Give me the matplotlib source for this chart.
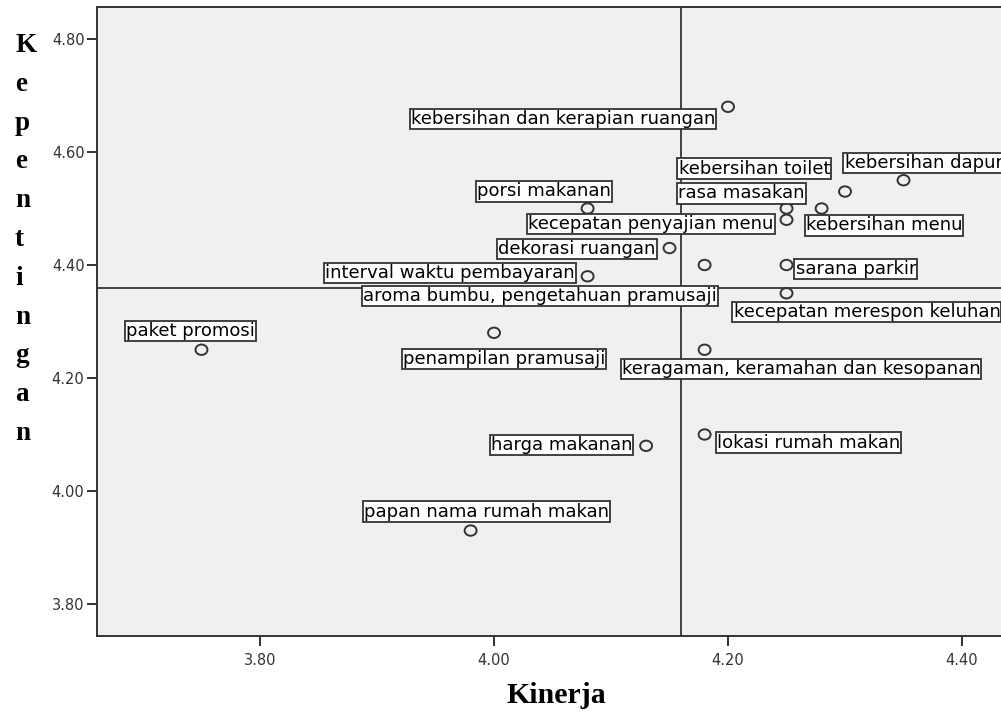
import matplotlib
matplotlib.use('Agg')

import numpy as np
import matplotlib.pyplot as plt
from matplotlib.path import Path

# data: (kinerja, kepentingan) per attribute
labels = [
    'kebersihan dan kerapian ruangan',
    'kebersihan dapur',
    'kebersihan toilet',
    'rasa masakan',
    'porsi makanan',
    'kecepatan penyajian menu',
    'kebersihan menu',
    'dekorasi ruangan',
    'interval waktu pembayaran',
    'aroma bumbu, pengetahuan pramusaji',
    'sarana parkir',
    'kecepatan merespon keluhan',
    'paket promosi',
    'penampilan pramusaji',
    'keragaman, keramahan dan kesopanan',
    'harga makanan',
    'lokasi rumah makan',
    'papan nama rumah makan',
]
kinerja = [4.20, 4.35, 4.30, 4.25, 4.08, 4.25, 4.28, 4.15, 4.08,
           4.18, 4.25, 4.25, 3.75, 4.00, 4.18, 4.13, 4.18, 3.98]
kepentingan = [4.68, 4.55, 4.53, 4.50, 4.50, 4.48, 4.50, 4.43, 4.38,
               4.40, 4.40, 4.35, 4.25, 4.28, 4.25, 4.08, 4.10, 3.93]

mean_kinerja = 4.16
mean_kepentingan = 4.36

xticks = [3.80, 4.00, 4.20, 4.40]
yticks = [3.80, 4.00, 4.20, 4.40, 4.60, 4.80]

# label placement (offset in pixels from the point, alignment)
label_pos = [
    (-13, -12, 'right'), (-59, 17, 'left'), (-15, 23, 'right'), (18, 15, 'right'),
    (-44, 17, 'center'), (-13, -4, 'right'), (-16, -17, 'left'), (-14, -1, 'right'),
    (-13, 3, 'right'), (12, -31, 'right'), (9, -4, 'left'), (-53, -19, 'left'),
    (-11, 19, 'center'), (10, -26, 'center'), (-83, -19, 'left'), (-14, 1, 'right'),
    (12, -8, 'left'), (16, 19, 'center'),
]

dark = '#333333'

# slightly wide circle, like the (stretched) SPSS output
uc = Path.unit_circle()
oval = Path(uc.vertices * np.array([1.15, 1.0]), uc.codes)

fig = plt.figure(figsize=(10.01, 7.15), dpi=100)
ax = fig.add_axes([97 / 1001, 79 / 715, 913 / 1001, 629 / 715])
ax.set_facecolor('#f0f0f0')

ax.scatter(kinerja, kepentingan, s=74, marker=oval, facecolors='none',
           edgecolors=dark, linewidths=1.4, zorder=3)

ax.axvline(mean_kinerja, color=dark, lw=1.3, zorder=2)
ax.axhline(mean_kepentingan, color=dark, lw=1.3, zorder=2)

for name, x, y, (dx, dy, ha) in zip(labels, kinerja, kepentingan, label_pos):
    ax.annotate(name, (x, y), xytext=(dx, dy), textcoords='offset pixels',
                ha=ha, va='center', fontsize=13, family='DejaVu Sans',
                color='black', zorder=4, annotation_clip=False,
                bbox=dict(boxstyle='square,pad=0.06', fc='white', ec=dark, lw=1.3))

ax.set_xlim(3.6607, 4.4410)
ax.set_ylim(3.7434, 4.8566)
ax.set_xticks(xticks)
ax.set_yticks(yticks)
ax.set_xticklabels(['%.2f' % v for v in xticks])
ax.set_yticklabels(['%.2f' % v for v in yticks])
ax.tick_params(direction='out', length=7, width=1.4, color=dark,
               labelsize=10.5, labelcolor=dark, pad=2)
ax.tick_params(axis='x', pad=5)
for lab in ax.get_xticklabels() + ax.get_yticklabels():
    lab.set_family('DejaVu Sans')
for sp in ax.spines.values():
    sp.set_color(dark)
    sp.set_linewidth(1.4)

# axis titles
fig.text(556 / 1001, 1 - 703 / 715, 'Kinerja', ha='center', va='baseline',
         fontsize=21.5, fontweight='bold', family='Liberation Serif')
for i, ch in enumerate('Kepentingan'):
    fig.text(15 / 1001, 1 - (52 + i * 38.8) / 715, ch, ha='left', va='baseline',
             fontsize=19.5, fontweight='bold', family='Liberation Serif')

plt.savefig('out.png', dpi=100)
plt.close(fig)
